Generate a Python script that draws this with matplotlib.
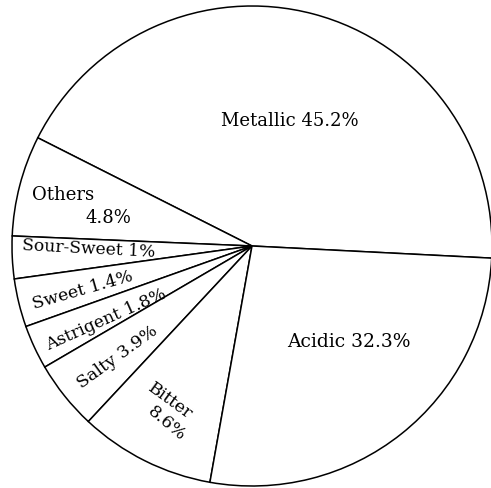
import matplotlib
matplotlib.use("Agg")
import matplotlib.pyplot as plt

# taste categories, counter-clockwise from the right-hand boundary
names = ["Metallic", "Others", "Sour-Sweet", "Sweet", "Astrigent", "Salty", "Bitter", "Acidic"]
percent = ["45.2%", "4.8%", "1%", "1.4%", "1.8%", "3.9%", "8.6%", "32.3%"]
# wedge sizes as drawn in the original (degrees), small ones widened for their text
drawn_deg = [156.1, 24.4, 10.3, 11.7, 10.7, 16.7, 32.9, 97.2]

W, H = 491, 489
CX, CY, R = 252, 247, 240   # image pixel coords (y down)

fig = plt.figure(figsize=(W / 100, H / 100), dpi=100)
ax = fig.add_axes([0, 0, 1, 1])

ax.pie(drawn_deg, startangle=-2.9, counterclock=True, center=(CX, H - CY), radius=R,
       colors=["white"] * len(drawn_deg),
       wedgeprops=dict(edgecolor="black", linewidth=1.1), frame=True)
ax.set_xlim(0, W)
ax.set_ylim(0, H)
ax.axis("off")

# label placement: (x, y) image coords, rotation, fontsize
place = {
    "Metallic": [("{n} {p}", 290, 121, 0, 13)],
    "Others": [("{n}", 63, 195, 0, 13), ("{p}", 108, 218, 0, 13)],
    "Sour-Sweet": [("{n} {p}", 89, 249, -3, 12.3)],
    "Sweet": [("{n} {p}", 83, 290, 16, 12.5)],
    "Astrigent": [("{n} {p}", 106, 320, 24, 12.3)],
    "Salty": [("{n} {p}", 117, 357, 36, 12.6)],
    "Bitter": [("{n}", 170, 401, -36, 12.5), ("{p}", 167, 424, -40, 12.5)],
    "Acidic": [("{n} {p}", 349, 342, 0, 13.5)],
}

for n, p in zip(names, percent):
    for fmt, x, y, rot, fs in place[n]:
        ax.text(x, H - y, fmt.format(n=n, p=p), ha="center", va="center",
                rotation=rot, rotation_mode="anchor", fontsize=fs,
                family="DejaVu Serif", color="black")

fig.savefig("out.png", dpi=100, facecolor="white")
